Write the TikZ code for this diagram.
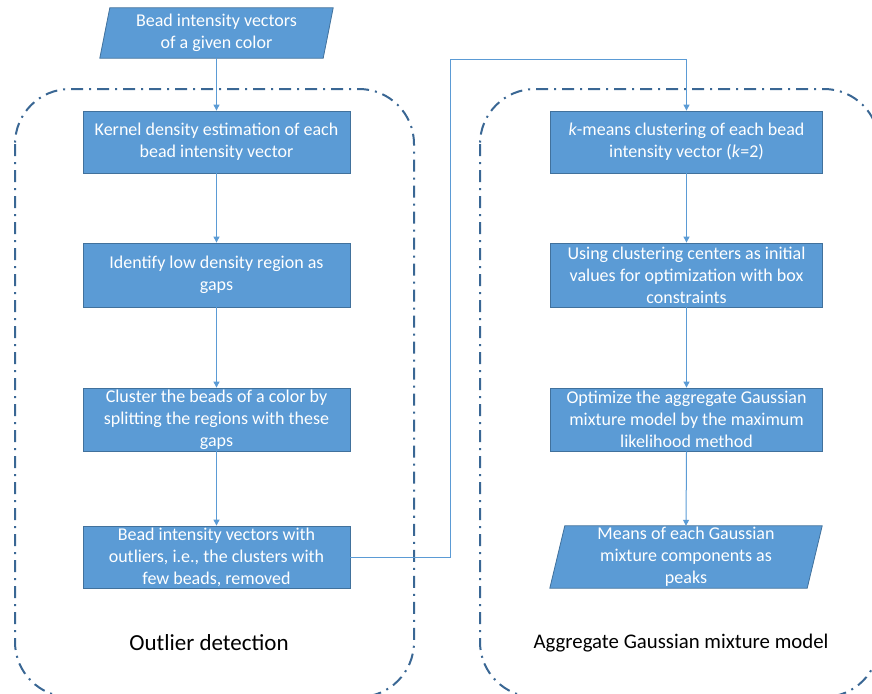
\documentclass[tikz,border=0pt]{standalone}
\usepackage{fontspec}
\setmainfont{Carlito}
\usetikzlibrary{arrows.meta,backgrounds}
\definecolor{boxfill}{HTML}{5B9BD5}
\definecolor{boxedge}{HTML}{41719C}
\definecolor{contedge}{HTML}{3A6794}
\tikzset{
  stepbox/.style={draw=boxedge, line width=0.8pt, fill=boxfill, text=white, align=center,
    font=\fontsize{18}{22}\selectfont, inner sep=0pt},
  iotext/.style={text=white, align=center, font=\fontsize{18}{22}\selectfont, inner sep=0pt},
  ioshape/.style={draw=boxedge, line width=0.8pt, fill=boxfill},
  arr/.style={draw=boxfill, line width=1pt, -{Triangle[length=6pt,width=6pt]}},
  container/.style={draw=contedge, line width=2pt, rounded corners=55pt,
    dash pattern=on 12pt off 6pt on 2pt off 6pt},
  grouplabel/.style={text=black}
}
\begin{document}
\begin{tikzpicture}[x=1pt,y=-1pt]
\useasboundingbox (0,0) rectangle (872,693);
% containers
\draw[container] (15,89) rectangle (414,697);
\draw[container] (480,89) rectangle (879,697);
% input parallelogram
\node[iotext, minimum width=233pt, minimum height=50pt] (in) at (216.5,33) {Bead intensity vectors\\of a given color};
\begin{scope}[on background layer]
\draw[ioshape] ([xshift=10pt]in.north west) -- (in.north east) -- ([xshift=-10pt]in.south east) -- (in.south west) -- cycle;
\end{scope}
% left column
\node[stepbox, minimum width=267pt, minimum height=62pt] (b1) at (216.5,142) {Kernel density estimation of each\\bead intensity vector};
\node[stepbox, minimum width=267pt, minimum height=64pt] (b2) at (216.5,275) {Identify low density region as\\gaps};
\node[stepbox, minimum width=267pt, minimum height=63pt] (b3) at (216.5,419.5) {Cluster the beads of a color by\\splitting the regions with these\\gaps};
\node[stepbox, minimum width=267pt, minimum height=62pt] (b4) at (216.5,557) {Bead intensity vectors with\\outliers, i.e., the clusters with\\few beads, removed};
\node[grouplabel, font=\fontsize{23}{26}\selectfont] (l1) at (209,643) {Outlier detection};
% right column
\node[stepbox, minimum width=272pt, minimum height=62pt] (b5) at (686.5,142) {\textit{k}-means clustering of each bead\\intensity vector (\textit{k}=2)};
\node[stepbox, minimum width=272pt, minimum height=64pt] (b6) at (686.5,275) {Using clustering centers as initial\\values for optimization with box\\constraints};
\node[stepbox, minimum width=272pt, minimum height=63pt] (b7) at (686.5,419.5) {Optimize the aggregate Gaussian\\mixture model by the maximum\\likelihood method};
\node[iotext, minimum width=272pt, minimum height=62pt] (out) at (686,557) {Means of each Gaussian\\mixture components as\\peaks};
\begin{scope}[on background layer]
\draw[ioshape] ([xshift=15pt]out.north west) -- (out.north east) -- ([xshift=-15pt]out.south east) -- (out.south west) -- cycle;
\end{scope}
\node[grouplabel, font=\fontsize{20.8}{24}\selectfont] (l2) at (681,643) {Aggregate Gaussian mixture model};
% connectors
\draw[arr] (in.south) -- (b1.north);
\draw[arr] (b1.south) -- (b2.north);
\draw[arr] (b2.south) -- (b3.north);
\draw[arr] (b3.south) -- (b4.north);
\coordinate (c1) at (450,60);
\draw[arr] (b4.east) -| (c1) -| (b5.north);
\draw[arr] (b5.south) -- (b6.north);
\draw[arr] (b6.south) -- (b7.north);
\draw[arr] (b7.south) -- (out.north);
\end{tikzpicture}
\end{document}
